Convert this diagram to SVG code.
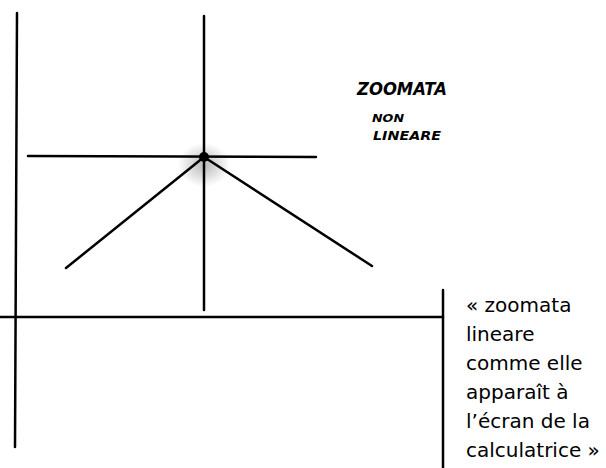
<svg xmlns="http://www.w3.org/2000/svg" width="606" height="468" viewBox="0 0 606 468">
<defs>
<style>
.ln{stroke:#000;stroke-width:2.5;fill:none;stroke-linecap:round}
.lbl{font-family:"DejaVu Sans",Verdana,sans-serif;font-size:20px;fill:#000}
.hw{font-family:"DejaVu Sans",sans-serif;font-weight:bold;fill:#000;font-style:italic}
</style>
<radialGradient id="halo">
<stop offset="0" stop-color="#888" stop-opacity="0.6"/>
<stop offset="1" stop-color="#888" stop-opacity="0"/>
</radialGradient>
</defs>
<rect width="606" height="468" fill="#fff"/>
<g id="connectors">
<ellipse cx="204" cy="165" rx="26" ry="22" fill="url(#halo)"/>
<line class="ln" x1="17" y1="13" x2="15" y2="447"/>
<line class="ln" x1="204" y1="16" x2="204" y2="310"/>
<line class="ln" x1="28" y1="156" x2="316" y2="157"/>
<line class="ln" x1="204" y1="157" x2="66" y2="268"/>
<line class="ln" x1="204" y1="157" x2="372" y2="266"/>
<line class="ln" x1="0" y1="317" x2="443" y2="317"/>
<line class="ln" x1="443" y1="290" x2="443" y2="468" stroke-width="3"/>
</g>
<g id="origin">
<circle cx="204" cy="157" r="5" fill="#000"/>
</g>
<g id="note-nonlinear">
<text class="hw" x="357" y="95" font-size="17" textLength="90" lengthAdjust="spacingAndGlyphs">ZOOMATA</text>
<text class="hw" x="372" y="122" font-size="11" textLength="32" lengthAdjust="spacingAndGlyphs">NON</text>
<text class="hw" x="373" y="140" font-size="13" textLength="68" lengthAdjust="spacingAndGlyphs">LINEARE</text>
</g>
<g id="caption">
<text class="lbl" x="466" y="312">« zoomata</text>
<text class="lbl" x="466" y="341">lineare</text>
<text class="lbl" x="466" y="370">comme elle</text>
<text class="lbl" x="466" y="399">apparaît à</text>
<text class="lbl" x="466" y="428">l’écran de la</text>
<text class="lbl" x="466" y="457">calculatrice »</text>
</g>
</svg>
